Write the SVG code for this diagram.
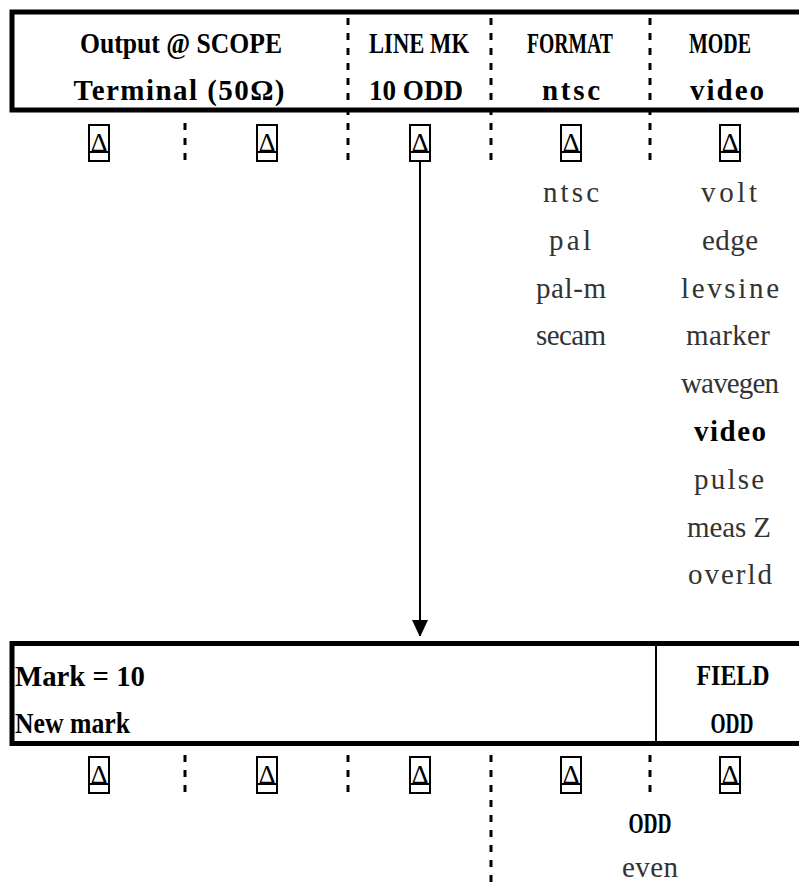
<svg xmlns="http://www.w3.org/2000/svg" width="799" height="883" viewBox="0 0 799 883">
<style>
.hdr{font-family:"Liberation Serif","DejaVu Serif",serif;font-size:29px;font-weight:bold;fill:#000;text-anchor:middle}
.hl{text-anchor:start}
.lst{font-family:"Liberation Serif","DejaVu Serif",serif;font-size:29px;fill:#333;text-anchor:middle}
.sel{font-weight:bold;fill:#000}
.box{fill:#fff;stroke:#000;stroke-width:5}
.sep{stroke:#000;stroke-width:2}
.div{stroke:#000;stroke-width:3;stroke-dasharray:7 8;fill:none}
.kr{fill:none;stroke:#000;stroke-width:2}
.kt{font-family:"Liberation Serif","DejaVu Serif",serif;font-size:26px;fill:#000;text-anchor:middle}
.conn{stroke:#000;stroke-width:2;fill:none}
</style>
<defs>
<marker id="ah" markerUnits="userSpaceOnUse" markerWidth="16" markerHeight="17" refX="16" refY="8" orient="auto">
<path d="M0,0 L17,8 L0,16 z" fill="#000"/>
</marker>
<g id="key">
<rect class="kr" x="-10" y="0" width="20" height="36"/>
<line class="sep" x1="-10" y1="27" x2="10" y2="27"/>
<text class="kt" x="0" y="26">Δ</text>
</g>
</defs>

<g id="top-bar">
<rect class="box" x="12" y="12" width="800" height="98"/>
<text class="hdr" x="181" y="53" textLength="202" lengthAdjust="spacingAndGlyphs">Output @ SCOPE</text>
<text class="hdr" x="179" y="100" textLength="211" lengthAdjust="spacing">Terminal (50Ω)</text>
<text class="hdr" x="419" y="53" textLength="100" lengthAdjust="spacingAndGlyphs">LINE MK</text>
<text class="hdr" x="416" y="100" textLength="94" lengthAdjust="spacingAndGlyphs">10 ODD</text>
<text class="hdr" x="570" y="53" textLength="86" lengthAdjust="spacingAndGlyphs">FORMAT</text>
<text class="hdr" x="571" y="100" textLength="58" lengthAdjust="spacing">ntsc</text>
<text class="hdr" x="720" y="53" textLength="62" lengthAdjust="spacingAndGlyphs">MODE</text>
<text class="hdr" x="727" y="100" textLength="74" lengthAdjust="spacing">video</text>
</g>

<g id="top-dividers">
<line class="div" x1="185" y1="123" x2="185" y2="161"/>
<line class="div" x1="348" y1="18" x2="348" y2="161"/>
<line class="div" x1="491" y1="18" x2="491" y2="161"/>
<line class="div" x1="650" y1="18" x2="650" y2="161"/>
</g>

<g id="top-keys">
<use href="#key" x="99" y="125"/>
<use href="#key" x="267" y="125"/>
<use href="#key" x="420" y="125"/>
<use href="#key" x="571" y="125"/>
<use href="#key" x="730" y="125"/>
</g>

<g id="format-list">
<text class="lst" x="571" y="202" textLength="56">ntsc</text>
<text class="lst" x="570" y="250" textLength="42">pal</text>
<text class="lst" x="571" y="298" textLength="70">pal-m</text>
<text class="lst" x="571" y="345" textLength="70">secam</text>
</g>

<g id="mode-list">
<text class="lst" x="729" y="202" textLength="56">volt</text>
<text class="lst" x="730" y="250" textLength="56">edge</text>
<text class="lst" x="730" y="298" textLength="98">levsine</text>
<text class="lst" x="728" y="345" textLength="84">marker</text>
<text class="lst" x="730" y="393" textLength="98">wavegen</text>
<text class="lst sel" x="730" y="441" textLength="72">video</text>
<text class="lst" x="729" y="489" textLength="70">pulse</text>
<text class="lst" x="729" y="537" textLength="84">meas Z</text>
<text class="lst" x="730" y="584" textLength="84">overld</text>
</g>

<g id="connectors">
<line class="conn" x1="420" y1="162" x2="420" y2="636" marker-end="url(#ah)"/>
</g>

<g id="bottom-bar">
<rect class="box" x="12" y="643.5" width="800" height="100"/>
<line class="sep" x1="656" y1="646" x2="656" y2="741"/>
<text class="hdr hl" x="15" y="686" textLength="130" lengthAdjust="spacingAndGlyphs">Mark = 10</text>
<text class="hdr hl" x="15" y="733" textLength="115" lengthAdjust="spacingAndGlyphs">New mark</text>
<text class="hdr" x="733" y="685" textLength="73" lengthAdjust="spacingAndGlyphs">FIELD</text>
<text class="hdr" x="732" y="733" textLength="43" lengthAdjust="spacingAndGlyphs">ODD</text>
</g>

<g id="bottom-dividers">
<line class="div" x1="185" y1="755" x2="185" y2="793"/>
<line class="div" x1="348" y1="755" x2="348" y2="793"/>
<line class="div" x1="491" y1="755" x2="491" y2="883"/>
<line class="div" x1="650" y1="755" x2="650" y2="793"/>
</g>

<g id="bottom-keys">
<use href="#key" x="99" y="757"/>
<use href="#key" x="267" y="757"/>
<use href="#key" x="420" y="757"/>
<use href="#key" x="571" y="757"/>
<use href="#key" x="730" y="757"/>
</g>

<g id="field-list">
<text class="lst sel" x="650" y="833" textLength="43" lengthAdjust="spacingAndGlyphs">ODD</text>
<text class="lst" x="650" y="877" textLength="56">even</text>
</g>
</svg>
